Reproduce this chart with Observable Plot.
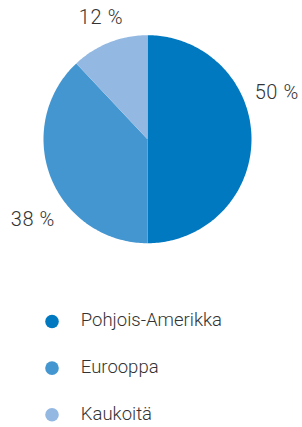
<!DOCTYPE html>
<html>
<head>
<meta charset="utf-8">
<script src="https://cdn.jsdelivr.net/npm/d3@7"></script>
<script src="https://cdn.jsdelivr.net/npm/@observablehq/plot@0.6"></script>
<style>
  html, body { margin: 0; padding: 0; background: #fff; }
  #chart svg { display: block; }
</style>
</head>
<body>
<div id="chart"></div>
<script>
// Data
const categories = ["Pohjois-Amerikka", "Eurooppa", "Kaukoitä"];
const shares = [50, 38, 12];
const valueLabels = ["50 %", "38 %", "12 %"];
const colors = ["#0079c1", "#4496d1", "#93b9e3"];

// Layout (label placement around the pie, degrees clockwise from top, radius in pie radii)
const labelAngles = [70.2, 235, 339];
const labelRadii = [1.321, 1.346, 1.25];

const W = 302, H = 427;
const cx = 147, cy = 138.7, R = 104;
const font = "Roboto, 'Liberation Sans', sans-serif";

const arcs = d3.pie().sort(null).value(d => d.value)(
  categories.map((c, i) => ({cat: c, value: shares[i]}))
);

// polygon points for each slice, in pie-radius units
const slicePts = [];
arcs.forEach(a => {
  slicePts.push({cat: a.data.cat, x: 0, y: 0});
  const n = Math.max(2, Math.ceil((a.endAngle - a.startAngle) / (Math.PI / 180)));
  for (let k = 0; k <= n; k++) {
    const t = a.startAngle + (a.endAngle - a.startAngle) * k / n;
    slicePts.push({cat: a.data.cat, x: Math.sin(t), y: Math.cos(t)});
  }
});

const labelData = categories.map((c, i) => {
  const t = labelAngles[i] * Math.PI / 180;
  return {text: valueLabels[i], x: labelRadii[i] * Math.sin(t), y: labelRadii[i] * Math.cos(t)};
});

const toUx = px => (px - cx) / R;
const toUy = py => (cy - py) / R;
const legendDotX = toUx(51.5), legendTextX = toUx(80.3);
const legendY0 = toUy(321), legendStep = 46.6 / R;
const legendData = categories.map((c, i) => ({cat: c, y: legendY0 - i * legendStep}));

const chart = Plot.plot({
  width: W, height: H,
  margin: 0,
  x: {domain: [-1, 1], range: [cx - R, cx + R], axis: null},
  y: {domain: [-1, 1], range: [cy + R, cy - R], axis: null},
  color: {domain: categories, range: colors},
  style: {fontFamily: font, background: "#fff"},
  marks: [
    Plot.line(slicePts, {x: "x", y: "y", z: "cat", fill: "cat", stroke: null, curve: "linear-closed"}),
    Plot.text(labelData, {x: "x", y: "y", text: "text", fontSize: 20, fontWeight: 300, fill: "#333", fontFamily: font}),
    Plot.dot(legendData, {x: () => legendDotX, y: "y", r: 6.8, fill: "cat", stroke: null}),
    Plot.text(legendData, {x: () => legendTextX, y: "y", dy: -1, text: "cat", textAnchor: "start", fontSize: 18.5, fontWeight: 300, fill: "#333", fontFamily: font})
  ]
});
// slight letter spacing on value labels
chart.querySelectorAll("text").forEach(t => {
  if (/%$/.test(t.textContent)) t.setAttribute("letter-spacing", "0.6");
});
document.getElementById("chart").appendChild(chart);
</script>
</body>
</html>
